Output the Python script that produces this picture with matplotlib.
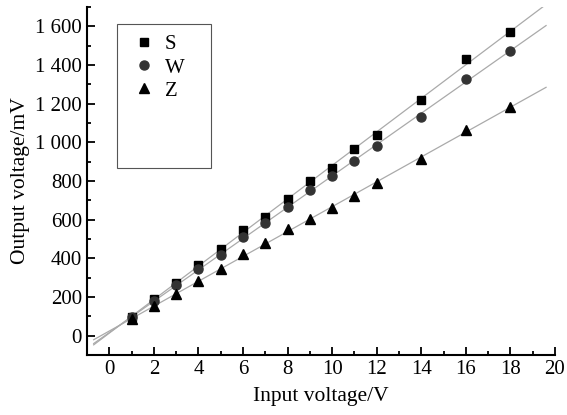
import matplotlib
matplotlib.use("Agg")
import matplotlib.pyplot as plt
import numpy as np
from matplotlib.ticker import MultipleLocator, FuncFormatter
from matplotlib.patches import Rectangle

plt.rcParams['font.family'] = ['Liberation Serif', 'DejaVu Serif']

x_vals = [1, 2, 3, 4, 5, 6, 7, 8, 9, 10, 11, 12, 14, 16, 18]
s_vals = [99, 192, 270, 364, 447, 545, 613, 706, 800, 868, 966, 1039, 1221, 1429, 1569]
w_vals = [97, 177, 260, 343, 415, 509, 582, 665, 753, 826, 904, 982, 1132, 1330, 1475]
z_vals = [88, 151, 213, 281, 343, 421, 478, 551, 603, 660, 722, 790, 914, 1065, 1184]
series_names = ['S', 'W', 'Z']

fig = plt.figure(figsize=(5.67, 4.15), dpi=100)
ax = fig.add_axes([0.1534, 0.1446, 0.8254, 0.8384])

x = np.array(x_vals, dtype=float)
xfit = np.array([-0.7, 19.6])
styles = [('s', 'black', 6), ('o', '#333333', 6.5), ('^', 'black', 7.5)]
for name, vals, (mk, col, ms) in zip(series_names, [s_vals, w_vals, z_vals], styles):
    y = np.array(vals, dtype=float)
    k, b = np.polyfit(x, y, 1)
    ax.plot(xfit, k * xfit + b, color='#aaaaaa', lw=0.9, zorder=1)
    ax.plot(x, y, linestyle='none', marker=mk, color=col, markersize=ms,
            label=name, zorder=3)

ax.set_xlim(-1, 20)
ax.set_ylim(-100, 1700)
ax.xaxis.set_major_locator(MultipleLocator(2))
ax.xaxis.set_minor_locator(MultipleLocator(1))
ax.yaxis.set_major_locator(MultipleLocator(200))
ax.yaxis.set_minor_locator(MultipleLocator(100))

def yfmt(v, pos):
    v = int(round(v))
    if abs(v) >= 1000:
        return f"{v // 1000} {v % 1000:03d}"
    return str(v)
ax.yaxis.set_major_formatter(FuncFormatter(yfmt))

for side in ['top', 'right']:
    ax.spines[side].set_visible(False)
for side in ['left', 'bottom']:
    ax.spines[side].set_linewidth(1.5)
ax.tick_params(which='both', direction='in', labelsize=15, width=1.3)
ax.tick_params(which='major', length=6)
ax.tick_params(which='minor', length=3)

ax.set_xlabel('Input voltage/V', fontsize=15.5, labelpad=6)
ax.set_ylabel('Output voltage/mV', fontsize=15.5, labelpad=4)

ax.add_patch(Rectangle((0.064, 0.537), 0.201, 0.414, transform=ax.transAxes,
                       fill=False, edgecolor='#555555', lw=0.8, zorder=4))
leg = ax.legend(loc='upper left', bbox_to_anchor=(0.100, 0.920), fontsize=15,
                frameon=False, handlelength=1.0, handletextpad=0.5,
                borderpad=0, labelspacing=0.17, borderaxespad=0)

fig.savefig('out.png', dpi=100)
